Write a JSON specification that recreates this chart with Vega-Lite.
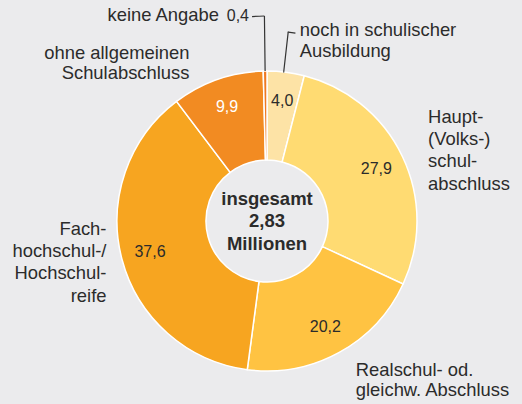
{
  "$schema": "https://vega.github.io/schema/vega-lite/v6.json",
  "width": 510,
  "height": 366,
  "autosize": {"type": "none"},
  "padding": {"left": 12, "top": 38, "right": 0, "bottom": 0},
  "background": "#ebebed",
  "config": {
    "view": {"stroke": null},
    "locale": {"number": {"decimal": ",", "thousands": ".", "grouping": [3], "currency": ["", " €"]}},
    "text": {"font": "Liberation Sans", "color": "#2b2b2b"}
  },
  "layer": [
    {
      "data": {"values": [
        {"cat": "noch in schulischer Ausbildung", "label": "noch in schulischer\nAusbildung", "value": 4.0},
        {"cat": "Haupt-(Volks-)schulabschluss", "label": "Haupt-\n(Volks-)\nschul-\nabschluss", "value": 27.9},
        {"cat": "Realschul- od. gleichw. Abschluss", "label": "Realschul- od.\ngleichw. Abschluss", "value": 20.2},
        {"cat": "Fachhochschul-/Hochschulreife", "label": "Fach-\nhochschul-/\nHochschul-\nreife", "value": 37.6},
        {"cat": "ohne allgemeinen Schulabschluss", "label": "ohne allgemeinen\nSchulabschluss", "value": 9.9},
        {"cat": "keine Angabe", "label": "keine Angabe", "value": 0.4}
      ]},
      "transform": [{"window": [{"op": "row_number", "as": "idx"}]}],
      "encoding": {
        "theta": {"field": "value", "type": "quantitative", "stack": true, "scale": {"domain": [0, 100]}},
        "order": {"field": "idx", "type": "quantitative"}
      },
      "layer": [
        {
          "mark": {"type": "arc", "radius": 150, "radius2": 61, "stroke": "white", "strokeWidth": 1.5},
          "encoding": {
            "color": {
              "field": "cat", "type": "nominal", "legend": null,
              "scale": {
                "domain": ["noch in schulischer Ausbildung", "Haupt-(Volks-)schulabschluss", "Realschul- od. gleichw. Abschluss", "Fachhochschul-/Hochschulreife", "ohne allgemeinen Schulabschluss", "keine Angabe"],
                "range": ["#fde3a6", "#ffdb72", "#ffc342", "#f7a520", "#f28b22", "#ef7a22"]
              }
            }
          }
        },
        {
          "transform": [
            {"stack": "value", "groupby": [], "sort": [{"field": "idx", "order": "ascending"}], "as": ["s0", "s1"]},
            {"filter": "datum.cat === 'keine Angabe'"}
          ],
          "mark": {"type": "arc", "radius": 205, "radius2": 150, "thetaOffset": 0.012566, "theta2Offset": -0.012566, "filled": false, "stroke": "#333333", "strokeWidth": 1.2},
          "encoding": {
            "theta": {"field": "s0", "type": "quantitative", "stack": null, "scale": {"domain": [0, 100]}},
            "theta2": {"field": "s1"}
          }
        },
        {
          "transform": [
            {"stack": "value", "groupby": [], "sort": [{"field": "idx", "order": "ascending"}], "as": ["s0", "s1"]},
            {"filter": "datum.cat === 'keine Angabe'"}
          ],
          "mark": {"type": "arc", "radius": 205, "radius2": 205, "thetaOffset": -0.04782, "theta2Offset": -0.012566, "filled": false, "stroke": "#333333", "strokeWidth": 1.2},
          "encoding": {
            "theta": {"field": "s0", "type": "quantitative", "stack": null, "scale": {"domain": [0, 100]}},
            "theta2": {"field": "s1"}
          }
        },
        {
          "transform": [
            {"stack": "value", "groupby": [], "sort": [{"field": "idx", "order": "ascending"}], "as": ["s0", "s1"]},
            {"filter": "datum.cat === 'noch in schulischer Ausbildung'"}
          ],
          "mark": {"type": "arc", "radius": 190, "radius2": 150, "thetaOffset": 0.1117, "theta2Offset": -0.1396, "filled": false, "stroke": "#333333", "strokeWidth": 1.2},
          "encoding": {
            "theta": {"field": "s0", "type": "quantitative", "stack": null, "scale": {"domain": [0, 100]}},
            "theta2": {"field": "s1"}
          }
        },
        {
          "transform": [
            {"stack": "value", "groupby": [], "sort": [{"field": "idx", "order": "ascending"}], "as": ["s0", "s1"]},
            {"filter": "datum.cat === 'noch in schulischer Ausbildung'"}
          ],
          "mark": {"type": "arc", "radius": 190, "radius2": 190, "thetaOffset": 0.1117, "theta2Offset": -0.1012, "filled": false, "stroke": "#333333", "strokeWidth": 1.2},
          "encoding": {
            "theta": {"field": "s0", "type": "quantitative", "stack": null, "scale": {"domain": [0, 100]}},
            "theta2": {"field": "s1"}
          }
        },
        {
          "mark": {"type": "text", "radius": 121, "fontSize": 16, "baseline": "middle", "align": "center"},
          "encoding": {
            "text": {"condition": {"test": "datum.cat !== 'keine Angabe'", "field": "value", "type": "quantitative", "format": ".1f"}, "value": ""},
            "color": {"condition": {"test": "datum.cat === 'ohne allgemeinen Schulabschluss'", "value": "white"}, "value": "#2b2b2b"}
          }
        },
        {
          "mark": {"type": "text", "radius": 175, "dx": -15.8, "dy": -38, "fontSize": 16, "baseline": "top", "align": "right"},
          "encoding": {
            "text": {"condition": {"test": "datum.cat === 'keine Angabe'", "field": "value", "type": "quantitative", "format": ".1f"}, "value": ""}
          }
        },
        {
          "mark": {"type": "text", "radius": 175, "dx": -45.8, "dy": -40, "fontSize": 18.4, "baseline": "top", "align": "right", "lineBreak": "\n"},
          "encoding": {"text": {"condition": {"test": "datum.cat === 'keine Angabe'", "field": "label", "type": "nominal"}, "value": ""}}
        },
        {
          "mark": {"type": "text", "radius": 175, "dx": 10.9, "dy": -26.4, "fontSize": 18.4, "lineHeight": 21, "baseline": "top", "align": "left", "lineBreak": "\n"},
          "encoding": {"text": {"condition": {"test": "datum.cat === 'noch in schulischer Ausbildung'", "field": "label", "type": "nominal"}, "value": ""}}
        },
        {
          "mark": {"type": "text", "radius": 175, "dx": 3, "dy": -38.3, "fontSize": 18.4, "lineHeight": 22.3, "baseline": "top", "align": "left", "lineBreak": "\n"},
          "encoding": {"text": {"condition": {"test": "datum.cat === 'Haupt-(Volks-)schulabschluss'", "field": "label", "type": "nominal"}, "value": ""}}
        },
        {
          "mark": {"type": "text", "radius": 175, "dx": 4.5, "dy": -13.4, "fontSize": 18.4, "lineHeight": 20.5, "baseline": "top", "align": "left", "lineBreak": "\n"},
          "encoding": {"text": {"condition": {"test": "datum.cat === 'Realschul- od. gleichw. Abschluss'", "field": "label", "type": "nominal"}, "value": ""}}
        },
        {
          "mark": {"type": "text", "radius": 175, "dx": 8.7, "dy": -45.6, "fontSize": 18.4, "lineHeight": 22.2, "baseline": "top", "align": "right", "lineBreak": "\n"},
          "encoding": {"text": {"condition": {"test": "datum.cat === 'Fachhochschul-/Hochschulreife'", "field": "label", "type": "nominal"}, "value": ""}}
        },
        {
          "mark": {"type": "text", "radius": 175, "dx": -19.8, "dy": -11.8, "fontSize": 18.4, "lineHeight": 20, "baseline": "top", "align": "right", "lineBreak": "\n"},
          "encoding": {"text": {"condition": {"test": "datum.cat === 'ohne allgemeinen Schulabschluss'", "field": "label", "type": "nominal"}, "value": ""}}
        }
      ]
    },
    {
      "data": {"values": [{"t": "insgesamt\n2,83\nMillionen"}]},
      "mark": {"type": "text", "fontSize": 18.5, "fontWeight": "bold", "lineHeight": 22.5, "baseline": "middle", "align": "center", "dy": -22.5, "lineBreak": "\n", "color": "#2b2b2b"},
      "encoding": {"text": {"field": "t", "type": "nominal"}}
    }
  ]
}
